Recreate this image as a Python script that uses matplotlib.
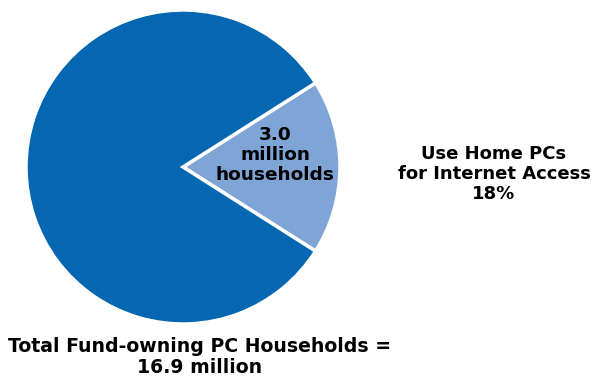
import matplotlib.pyplot as plt

shares = [18, 82]
colors = ["#7fa5d6", "#0567b1"]
slice_label = "3.0\nmillion\nhouseholds"
side_label = "Use Home PCs\nfor Internet Access\n18%"
total_label = "Total Fund-owning PC Households =\n16.9 million"


def main():
    fig = plt.figure(figsize=(6.05, 3.77), dpi=100)
    ax = fig.add_axes([0, 0, 1, 1])
    ax.axis("off")

    # pie drawn in pixel-like data coords (y flipped)
    ax.pie(shares, colors=colors, startangle=32.4, counterclock=False,
           center=(183, 167), radius=157,
           wedgeprops=dict(edgecolor="white", linewidth=2.5))
    ax.set_xlim(0, 605)
    ax.set_ylim(377, 0)
    ax.set_aspect("equal")

    font = dict(fontweight="bold", family="DejaVu Sans", ha="center", va="center",
                linespacing=1.12)
    ax.text(275, 155, slice_label, fontsize=13.3, **font)
    ax.text(494, 174, side_label, fontsize=13, **font)
    ax.text(200, 357, total_label, fontsize=13.6, **font)

    fig.savefig("out.png", dpi=100)


if __name__ == '__main__':
    main()
